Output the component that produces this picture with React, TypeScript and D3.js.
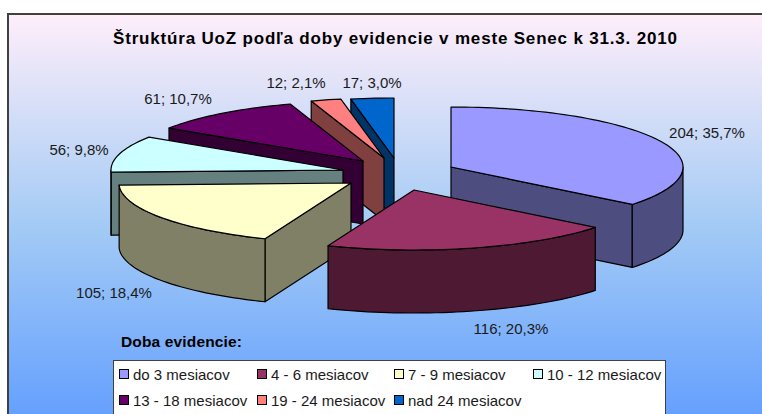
import React from "react";
import * as d3 from "d3";

const categories = ["do 3 mesiacov", "4 - 6 mesiacov", "7 - 9 mesiacov", "10 - 12 mesiacov", "13 - 18 mesiacov", "19 - 24 mesiacov", "nad 24 mesiacov"];
const values = [204, 116, 105, 56, 61, 12, 17];
const percentLabels = ["35,7%", "20,3%", "18,4%", "9,8%", "10,7%", "2,1%", "3,0%"];
const topColors = ["#9999FF", "#993366", "#FFFFCC", "#CCFFFF", "#660066", "#FF8080", "#0066CC"];
const wallColors = ["#4D4D80", "#4D1933", "#808066", "#668080", "#330033", "#804040", "#003366"];
// exploded slice apex positions
const apexX = [451, 414, 351, 343, 363, 384, 394];
const apexY = [167, 190, 183, 170, 161, 158, 158];
const labelX = [707, 511, 114, 79, 178, 296, 372];
const labelY = [138, 334, 298, 155, 104, 88, 88];
const drawOrder = [6, 5, 4, 3, 0, 2, 1];
const legendX = [119, 257, 394, 533];
const legendY = [380, 406];

const RX = 232, RY = 60, DEPTH = 63;
const FONT = "'Liberation Sans', Arial, sans-serif";

export default function App() {
  const arcs = d3.pie<number>().sort(null).value((d) => d)(values);
  const sx = d3.scaleLinear().domain([-1, 1]).range([-RX, RX]);
  const sy = d3.scaleLinear().domain([-1, 1]).range([-RY, RY]);
  const px = (i: number, a: number) => apexX[i] + sx(Math.sin(a));
  const py = (i: number, a: number) => apexY[i] + sy(-Math.cos(a));
  const line = d3.line<[number, number]>();
  const angles = (a0: number, a1: number) => {
    const n = Math.max(2, Math.ceil(Math.abs(a1 - a0) / 0.03));
    return d3.range(n + 1).map((k) => a0 + ((a1 - a0) * k) / n);
  };
  const close = (pts: [number, number][]) => (line(pts) || "") + "Z";

  const slices = drawOrder.map((i) => {
    const { startAngle: a0, endAngle: a1 } = arcs[i];
    const ax = apexX[i], ay = apexY[i];
    const faces: React.ReactNode[] = [];
    const stroke = { stroke: "#000", strokeWidth: 1.2, strokeLinejoin: "round" as const };
    if (a0 >= Math.PI - 1e-6) {
      faces.push(
        <path key="s" d={close([[ax, ay], [px(i, a0), py(i, a0)], [px(i, a0), py(i, a0) + DEPTH], [ax, ay + DEPTH]])} fill={wallColors[i]} {...stroke} />
      );
    }
    if (a1 < Math.PI) {
      faces.push(
        <path key="e" d={close([[ax, ay], [px(i, a1), py(i, a1)], [px(i, a1), py(i, a1) + DEPTH], [ax, ay + DEPTH]])} fill={wallColors[i]} {...stroke} />
      );
    }
    const f0 = Math.max(a0, Math.PI / 2), f1 = Math.min(a1, (3 * Math.PI) / 2);
    if (f1 > f0) {
      const upper = angles(f0, f1).map((a) => [px(i, a), py(i, a)] as [number, number]);
      const lower = angles(f1, f0).map((a) => [px(i, a), py(i, a) + DEPTH] as [number, number]);
      faces.push(<path key="w" d={close([...upper, ...lower])} fill={wallColors[i]} {...stroke} />);
    }
    const rim = angles(a0, a1).map((a) => [px(i, a), py(i, a)] as [number, number]);
    faces.push(<path key="t" d={close([[ax, ay], ...rim])} fill={topColors[i]} {...stroke} />);
    return <g key={i}>{faces}</g>;
  });

  return (
    <svg width={762} height={414} style={{ position: "absolute", left: 0, top: 0 }} fontFamily={FONT}>
      <defs>
        <linearGradient id="bg" x1="0" y1="0" x2="0" y2="1">
          <stop offset="0" stopColor="#FFEEFA" />
          <stop offset="0.5" stopColor="#A4CBF5" />
          <stop offset="1" stopColor="#5F9CFF" />
        </linearGradient>
      </defs>
      <rect width={762} height={414} fill="#fff" />
      <rect x={8} y={14} width={800} height={420} fill="url(#bg)" stroke="#404040" strokeWidth={2} />
      <text x={113} y={44} fontSize={17} fontWeight="bold" fill="#000" textLength={564} lengthAdjust="spacing">Štruktúra UoZ podľa doby evidencie v meste Senec k 31.3. 2010</text>
      {slices}
      {values.map((v, i) => (
        <text key={i} x={labelX[i]} y={labelY[i]} textAnchor="middle" fontSize={15} fill="#1a1a1a">{`${v}; ${percentLabels[i]}`}</text>
      ))}
      <text x={121} y={347} fontSize={15.5} fontWeight="bold" fill="#000" textLength={121} lengthAdjust="spacing">Doba evidencie:</text>
      <rect x={113.5} y={360.5} width={552} height={70} fill="#fff" stroke="#404040" />
      {categories.map((c, i) => {
        const col = i % 4, row = Math.floor(i / 4);
        return (
          <g key={c}>
            <rect x={legendX[col] + 0.5} y={legendY[row] - 10.5} width={9} height={9} fill={topColors[i]} stroke="#000" />
            <text x={legendX[col] + 14} y={legendY[row]} fontSize={15} fill="#1a1a1a">{c}</text>
          </g>
        );
      })}
    </svg>
  );
}
